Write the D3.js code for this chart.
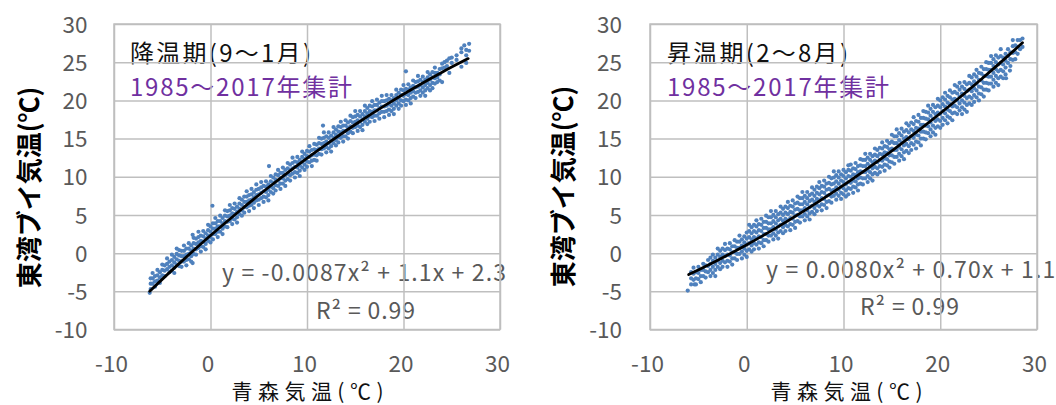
<!DOCTYPE html>
<html><head><meta charset="utf-8">
<script src="https://cdn.jsdelivr.net/npm/d3@7"></script>
<style>
html,body{margin:0;padding:0;background:#fff;}
svg{display:block;}
text{font-family:"Noto Sans CJK JP","Noto Sans",sans-serif;}
</style></head><body>
<svg id="chart" width="1056" height="405"></svg>
<script>
// ---------- tick labels ----------
const xTicks = [-10, 0, 10, 20, 30];
const yTicks = [-10, -5, 0, 5, 10, 15, 20, 25, 30];
const xTitle = "青森気温(℃)";
const yTitle = "東湾ブイ気温(℃)";
const periodNote = "1985～2017年集計";

// ---------- cooling period (Sep–Jan): rows = [Aomori x, buoy y values...] ----------
const coolTitle = "降温期(9～1月)";
const coolEq = "y = -0.0087x² + 1.1x + 2.3";
const coolR2 = "R² = 0.99";
const coolRows = [
[-6.3,-5.2],[-6.2,-4.7,-4.0,-3.3],[-6.0,-4.0,-3.3,-2.6],[-5.75,-4.4,-3.7,-3.0],[-5.5,-3.6,-2.9,-2.2],
[-5.25,-3.9,-3.2,-2.5],[-5.0,-2.9,-2.2,-1.5],[-4.75,-3.0,-2.3,-1.6],[-4.5,-2.1,-1.4,-0.7],[-4.25,-2.5,-1.8,-1.1],
[-4.0,-2.3,-1.6,-0.9,-0.2],[-3.75,-2.6,-1.9,-1.2,-0.5],[-3.5,-1.5,-0.8,-0.1,0.6],[-3.25,-1.7,-1.0,-0.3,0.4],
[-3.0,-1.8,-1.1,-0.4,0.3],[-2.75,-1.1,-0.4,0.3,1.0],[-2.5,-1.6,-0.9,-0.2,0.6],[-2.25,-0.8,-0.1,0.6,1.3],
[-2.0,-1.1,-0.4,0.3,1.0],[-1.85,2.4,-1.3],[-1.75,-0.1,0.6,1.3,2.0],[-1.5,-0.2,0.5,1.2,1.9],
[-1.25,0.7,1.4,2.1,2.8],[-1.0,0.2,0.9,1.6,2.3],[-0.75,0.8,1.5,2.2,2.9],[-0.5,0.5,1.2,1.9,2.6],
[-0.25,1.6,2.3,3.0,3.7],[0.0,1.4,2.1,2.8,3.5],[0.2,6.2],[0.25,1.8,2.5,3.2,3.9],[0.5,2.5,3.2,3.9,4.6],
[0.75,2.1,2.8,3.5,4.2],[1.0,2.8,3.5,4.2,4.9],[1.25,2.5,3.2,3.9,4.6],[1.5,3.5,4.2,4.9,5.6],
[1.75,3.4,4.1,4.8,5.5],[2.0,4.2,4.9,5.6,6.3],[2.25,3.8,4.5,5.2,5.9],[2.5,4.4,5.1,5.8,6.5],
[2.75,4.0,4.7,5.4,6.1],[3.0,5.1,5.8,6.5,7.2],[3.25,4.9,5.6,6.3,7.0],[3.5,5.3,6.0,6.7,7.4],
[3.75,6.0,6.7,7.4,8.1],[4.0,5.5,6.2,6.9,7.6],[4.25,6.3,7.0,7.7,8.4],[4.5,5.9,6.6,7.3,8.0],
[4.75,6.9,7.6,8.3,9.0],[5.0,6.3,7.0,7.7,8.4],[5.25,7.2,7.9,8.6,9.3],[5.5,6.7,7.4,8.1,8.8],
[5.75,7.3,8.0,8.7,9.4],[6.0,6.9,7.6,8.3,9.0],[6.06,11.4],[6.25,8.0,8.7,9.4,10.1],[6.5,7.8,8.5,9.2,9.9],
[6.75,8.2,8.9,9.6,10.3],[7.0,8.8,9.5,10.2,10.9],[7.25,8.4,9.1,9.8,10.5],[7.5,9.1,9.8,10.5,11.2],
[7.75,8.8,9.5,10.2,10.9],[8.0,9.7,10.4,11.1,11.8],[8.25,9.5,10.2,10.9,11.6],[8.5,10.4,11.1,11.8,12.5],
[8.75,9.9,10.6,11.3,12.0],[9.0,10.5,11.2,11.9,12.6],[9.25,10.1,10.8,11.5,12.2],[9.5,11.2,11.9,12.6,13.3],
[9.75,10.9,11.6,12.3,13.0],[10.0,11.3,12.0,12.7,13.4],[10.25,11.9,12.6,13.3,14.0],[10.5,11.4,12.1,12.8,13.5],
[10.75,12.2,12.9,13.6,14.3],[11.0,12.1,12.8,13.5,14.2],[11.25,13.0,13.7,14.4,15.1],[11.5,12.9,13.6,14.3,15.0],
[11.66,16.7],[11.75,13.7,14.4,15.1,15.8],[12.0,13.2,13.9,14.6,15.3],[12.25,13.7,14.4,15.1,15.8],
[12.5,13.3,14.0,14.7,15.4],[12.75,14.4,15.1,15.8,16.5],[13.0,14.1,14.8,15.5,16.2],[13.25,14.5,15.2,15.9,16.6],
[13.5,15.1,15.8,16.5,17.2],[13.75,14.6,15.3,16.0,16.7],[14.0,15.3,16.0,16.7,17.4],[14.25,15.0,15.7,16.4,17.1],
[14.5,15.9,16.6,17.3,18.0],[14.75,15.7,16.4,17.1,17.8],[15.0,16.5,17.2,17.9,18.6],[15.25,16.0,16.7,17.4,18.1],
[15.5,16.5,17.2,17.9,18.6],[15.75,16.1,16.8,17.5,18.2],[16.0,17.2,17.9,18.6,19.3],[16.25,16.9,17.6,18.3,19.0],
[16.5,17.2,17.9,18.6,19.3],[16.75,17.8,18.5,19.2,19.9],[17.0,17.3,18.0,18.7,19.4],[17.25,18.0,18.7,19.4,20.1],
[17.5,17.6,18.3,19.0,19.7],[17.75,18.5,19.2,19.9,20.6],[18.0,17.8,18.5,19.2,19.9],[18.25,18.6,19.3,20.0,20.7],
[18.5,18.1,18.8,19.5,20.2],[18.75,18.6,19.3,20.0,20.7],[19.0,18.2,18.9,19.6,20.3],[19.25,19.3,20.0,20.7,21.4],
[19.5,18.9,19.6,20.3,21.0],[19.75,19.3,20.0,20.7,21.4],[20.0,19.9,20.6,21.3,22.0],[20.25,19.4,20.1,20.8,21.5,23.8],
[20.5,20.0,20.7,21.4,22.1],[20.75,19.6,20.3,21.0,21.7],[21.0,20.5,21.2,21.9,22.6],[21.25,20.3,21.0,21.7,22.4],
[21.5,21.1,21.8,22.5,23.2],[21.75,20.6,21.3,22.0,22.7],[22.0,21.0,21.7,22.4,23.1],[22.25,20.6,21.3,22.0,22.7],
[22.5,21.6,22.3,23.0,23.7],[22.75,21.3,22.0,22.7,23.4],[23.0,21.6,22.3,23.0,23.7],[23.25,22.2,22.9,23.6,24.3],
[23.5,22.4,23.0,23.6],[23.75,22.6,23.4,24.1],[24.0,22.4,24.2,24.8],[24.25,24.3,25.0],[24.5,24.5,25.2],
[24.75,23.6,25.5],[25.0,24.9,25.6],[25.5,25.3,25.9],[26.0,24.4,26.3,26.8],[26.3,27.2],[26.5,24.9,25.9,26.6],[26.8,26.5,27.4]
];
const coolFitX = [-6.3, -3, 0, 3, 6, 9, 12, 15, 18, 21, 24, 26.7];
const coolFitY = [-4.98, -1.08, 2.3, 5.52, 8.59, 11.5, 14.25, 16.84, 19.28, 21.56, 23.69, 25.47];

// ---------- warming period (Feb–Aug) ----------
const warmTitle = "昇温期(2～8月)";
const warmEq = "y = 0.0080x² + 0.70x + 1.1";
const warmR2 = "R² = 0.99";
const warmRows = [
[-6.1,-4.9],[-5.4,-4.1],[-5.75,-4.1,-3.3,-2.5],[-5.5,-3.5,-2.7,-1.9],[-5.25,-4.1,-3.3,-2.5],[-5.0,-3.4,-2.6,-1.8],
[-4.75,-3.8,-3.0,-2.2],[-4.5,-3.0,-2.2,-1.4],[-4.25,-3.2,-2.4,-1.6],[-4.0,-2.5,-1.7,-0.9],
[-3.75,-3.0,-2.2,-1.4,-0.6],[-3.5,-2.6,-1.8,-1.0,-0.2],[-3.25,-3.0,-2.2,-1.4,-0.6],[-3.0,-1.8,-1.0,-0.2,0.6],
[-2.75,-2.1,-1.3,-0.5,0.3],[-2.5,-1.8,-1.0,-0.2,0.6],[-2.25,-1.2,-0.4,0.4,1.2],[-2.0,-1.8,-1.0,-0.2,0.6],
[-1.75,-1.1,-0.3,0.5,1.3],[-1.5,-1.5,-0.7,0.1,0.9],[-1.25,-0.7,0.1,0.9,1.7],[-1.0,-0.9,-0.1,0.7,1.5],
[-0.75,-0.1,0.7,1.5,2.3],[-0.5,-0.7,0.2,1.0,1.8],[-0.25,-0.2,0.6,1.4,2.2],[0.0,-0.5,0.3,1.1,1.9,2.7],
[0.25,0.5,1.3,2.1,2.9,3.7],[0.5,0.2,1.0,1.8,2.6,3.4],[0.75,0.5,1.3,2.1,2.9,3.7],[1.0,1.1,1.9,2.7,3.5,4.3],
[1.25,0.6,1.4,2.2,3.0,3.8],[1.5,1.3,2.1,2.9,3.7,4.5],[1.75,0.9,1.7,2.5,3.3,4.1],[2.0,1.7,2.5,3.3,4.1,4.9],
[2.25,1.5,2.3,3.1,3.9,4.7],[2.5,2.3,3.1,3.9,4.7,5.5],[2.75,1.8,2.6,3.4,4.2,5.0],[3.0,2.3,3.1,3.9,4.7,5.5],
[3.25,1.9,2.7,3.5,4.3,5.1],[3.5,2.9,3.7,4.5,5.3,6.1],[3.75,2.6,3.4,4.2,5.0,5.8],[4.0,2.9,3.7,4.5,5.3,6.1],
[4.25,3.5,4.3,5.1,5.9,6.7],[4.5,3.0,3.8,4.6,5.4,6.2],[4.75,3.7,4.5,5.3,6.1,6.9],[5.0,3.3,4.1,4.9,5.7,6.5],
[5.25,4.2,5.0,5.8,6.6,7.4],[5.5,4.0,4.8,5.6,6.4,7.2],[5.75,4.8,5.6,6.4,7.2,8.0],[6.0,4.3,5.1,5.9,6.7,7.5],
[6.25,4.8,5.6,6.4,7.2,8.0],[6.5,4.4,5.2,6.0,6.8,7.6],[6.75,5.4,6.2,7.0,7.8,8.6],[7.0,5.1,5.9,6.7,7.5,8.3],
[7.25,5.5,6.3,7.1,7.9,8.7],[7.5,6.1,6.9,7.7,8.5,9.3],[7.75,5.6,6.4,7.2,8.0,8.8],[8.0,6.3,7.1,7.9,8.7,9.5],
[8.25,5.9,6.7,7.5,8.3,9.1],[8.5,6.8,7.6,8.4,9.2,10.0],[8.75,6.6,7.4,8.2,9.0,9.8],[9.0,7.5,8.3,9.1,9.9,10.7],
[9.25,7.0,7.8,8.6,9.4,10.2],[9.5,7.5,8.3,9.1,9.9,10.7],[9.75,7.1,7.9,8.7,9.5,10.3],[10.0,7.7,8.5,9.3,10.1,10.9],
[10.25,7.4,8.2,9.0,9.8,10.6],[10.5,7.7,8.5,9.3,10.1,10.9,11.5],[10.75,8.4,9.2,10.0,10.8,11.6],[11.0,7.9,8.7,9.5,10.3,11.1],
[11.25,8.6,9.4,10.2,11.0,11.8],[11.5,8.2,9.0,9.8,10.6,11.4],[11.75,9.1,9.9,10.7,11.5,12.3],[12.0,9.0,9.8,10.6,11.4,12.2],
[12.25,9.8,10.6,11.4,12.2,13.0],[12.5,9.3,10.1,10.9,11.7,12.5],[12.75,9.8,10.6,11.4,12.2,13.0],[13.0,9.5,10.3,11.1,11.9,12.7],
[13.25,10.5,11.3,12.1,12.9,13.7],[13.5,10.3,11.1,11.9,12.7,13.5],[13.75,10.6,11.4,12.2,13.0,13.8],[14.0,11.3,12.1,12.9,13.7,14.5],
[14.25,10.8,11.6,12.4,13.2,14.0],[14.5,11.5,12.3,13.1,13.9,14.7],[14.75,11.2,12.0,12.8,13.6,14.4],[15.0,11.9,12.8,13.7,14.6,15.5],
[15.25,11.7,12.6,13.5,14.4,15.3],[15.5,12.6,13.5,14.4,15.3,16.2],[15.75,12.1,13.0,13.9,14.8,15.7],[16.0,12.7,13.6,14.5,15.4,16.3],
[16.25,12.3,13.2,14.1,15.0,15.9],[16.5,13.4,14.3,15.2,16.1,17.0],[16.75,13.1,14.0,14.9,15.8,16.7],[17.0,13.5,14.4,15.3,16.2,17.1],
[17.25,14.2,15.1,16.0,16.9,17.8],[17.5,13.7,14.6,15.5,16.4,17.3],[17.75,14.5,15.4,16.3,17.2,18.1],[18.0,14.1,15.0,15.9,16.8,17.7],
[18.25,15.0,15.9,16.8,17.7,18.6],[18.5,14.9,15.8,16.7,17.6,18.5],[18.75,15.7,16.6,17.5,18.4,19.3],[19.0,15.3,16.2,17.1,18.0,18.9],
[19.25,15.8,16.7,17.6,18.5,19.4],[19.5,15.5,16.4,17.3,18.2,19.1],[19.75,16.6,17.5,18.4,19.3,20.2],[20.0,16.4,17.3,18.2,19.1,20.0],
[20.25,16.8,17.7,18.6,19.5,20.4],[20.5,17.4,18.3,19.2,20.1,21.0],[20.75,17.0,17.9,18.8,19.7,20.6],[21.0,17.7,18.6,19.5,20.4,21.3],
[21.25,17.4,18.3,19.2,20.1,21.0],[21.5,18.4,19.3,20.2,21.1,22.0],[21.75,18.2,19.1,20.0,20.9,21.8],[22.0,18.7,19.6,20.5,21.4,22.3],
[22.25,18.2,19.1,20.0,20.9,21.8],[22.5,18.8,19.7,20.6,21.5,22.4],[22.75,18.5,19.4,20.3,21.2,22.1],[23.0,19.6,20.5,21.4,22.3,23.2],
[23.25,19.4,20.3,21.2,22.1,23.0],[23.5,19.8,20.7,21.6,22.5,23.4],[23.75,20.4,21.3,22.2,23.1,24.0],[24.0,20.0,20.9,21.8,22.7,23.6],
[24.25,20.8,21.7,22.6,23.5,24.4],[24.5,20.5,21.4,22.3,23.2,24.1],[24.75,21.4,22.3,23.2,24.1,25.0],[25.0,21.3,22.2,23.1,24.0,24.9],
[25.25,22.2,23.1,24.0,24.9,25.8],[25.5,21.8,22.7,23.6,24.5,25.4],[25.75,22.3,23.2,24.1,25.0,25.9],[26.0,22.0,22.9,23.8,24.7,25.6],
[26.25,23.1,24.0,24.9,25.8,26.7],[26.5,22.9,23.8,24.7,25.6],[26.75,23.4,24.3,25.2,26.1],[26.8,22.9],[27.0,24.9,25.8,26.7],
[27.2,23.9],[27.25,24.5,25.4,26.3],[27.5,25.3,26.2,27.1,27.9],[27.75,25.4,26.3,27.2],[28.0,26.1,27.0,27.9],
[28.25,26.7,27.9],[28.5,27.0,28.1]
];
const warmFitX = [-6, -3, 0, 3, 6, 9, 12, 15, 18, 21, 24, 27, 28.5];
const warmFitY = [-2.81, -0.93, 1.1, 3.27, 5.59, 8.05, 10.65, 13.4, 16.29, 19.33, 22.51, 25.83, 27.55];

// ---------- layout ----------
const svg = d3.select("#chart");
svg.append("rect").attr("width",1056).attr("height",405).attr("fill","#fff");
const TOP = 24, BOTTOM = 329.5;
const GRID = "#BFBFBF", LABEL = "#595959";
const TICKFONT = '"Liberation Sans","Noto Sans",sans-serif';

const panels = [
  {rows: coolRows, fitX: coolFitX, fitY: coolFitY, title: coolTitle, eq: coolEq, r2: coolR2,
   left:114, right:500, yLabX:87.5, yTitleX:27, yTitleY:187.5, xTitleX:307.5,
   noteX:130, eqX:222, eqY:281, r2X:316, r2Y:319},
  {rows: warmRows, fitX: warmFitX, fitY: warmFitY, title: warmTitle, eq: warmEq, r2: warmR2,
   left:650, right:1037, yLabX:622, yTitleX:561, yTitleY:186.5, xTitleX:846.5,
   noteX:667, eqX:766, eqY:278, r2X:860, r2Y:315}
];

const eqNodes = [];
panels.forEach(p => {
  const x = d3.scaleLinear().domain([-10, 30]).range([p.left, p.right]);
  const y = d3.scaleLinear().domain([-10, 30]).range([BOTTOM, TOP]);
  const g = svg.append("g");

  // annotations (under the grid)
  g.append("text").attr("x", p.noteX).attr("y", 62).attr("font-size", 24).attr("fill", "#111")
    .attr("textLength", 181).attr("lengthAdjust", "spacing").text(p.title);
  g.append("text").attr("x", p.noteX).attr("y", 96).attr("font-size", 24).attr("fill", "#7030A0")
    .attr("textLength", 222).attr("lengthAdjust", "spacing").text(periodNote);
  const eqT = g.append("text").attr("x", p.eqX).attr("y", p.eqY).attr("font-size", 23).attr("fill", LABEL).text(p.eq);
  eqNodes.push(eqT);
  g.append("text").attr("x", p.r2X).attr("y", p.r2Y).attr("font-size", 23).attr("fill", LABEL)
    .attr("textLength", 99).attr("lengthAdjust", "spacing").text(p.r2);

  // grid + axes
  const gx = g.append("g").attr("transform", `translate(0,${BOTTOM})`)
    .call(d3.axisBottom(x).tickValues(xTicks).tickFormat(d => String(d)).tickSize(-(BOTTOM - TOP)).tickSizeOuter(0));
  gx.select(".domain").remove();
  gx.selectAll("line").attr("stroke", GRID).attr("stroke-width", 1.5);
  gx.selectAll("text").attr("y", 42.5).attr("dy", 0).attr("dx", -3)
    .attr("font-size", 22.5).attr("fill", LABEL);

  const gy = g.append("g").attr("transform", `translate(${p.left},0)`)
    .call(d3.axisLeft(y).tickValues(yTicks).tickFormat(d => String(d)).tickSize(-(p.right - p.left)).tickSizeOuter(0));
  gy.select(".domain").remove();
  gy.selectAll("line").attr("stroke", GRID).attr("stroke-width", 1.5);
  gy.selectAll("text").attr("x", p.yLabX - p.left).attr("dy", "0.36em")
    .attr("font-size", 22.5).attr("fill", LABEL);
  g.selectAll("g.tick text").attr("font-family", TICKFONT);

  g.append("rect").attr("x", p.left).attr("y", TOP).attr("width", p.right - p.left).attr("height", BOTTOM - TOP)
    .attr("fill", "none").attr("stroke", GRID).attr("stroke-width", 1.5);

  // points
  const pts = p.rows.flatMap(([xv, ...ys]) => ys.map(yv => [xv, yv]));
  g.append("g").selectAll("circle").data(pts).join("circle")
    .attr("cx", d => x(d[0])).attr("cy", d => y(d[1])).attr("r", 2.1).attr("fill", "#4F81BD");

  // fitted curve
  const line = d3.line().x(d => x(d[0])).y(d => y(d[1])).curve(d3.curveMonotoneX);
  g.append("path").datum(p.fitX.map((v, i) => [v, p.fitY[i]])).attr("d", line)
    .attr("fill", "none").attr("stroke", "#000").attr("stroke-width", 2.8).attr("stroke-linecap", "round");

  // axis titles
  g.append("text").attr("x", p.xTitleX).attr("y", 399).attr("text-anchor", "middle")
    .attr("font-size", 21).attr("textLength", 152).attr("lengthAdjust", "spacing")
    .attr("fill", "#111").text(xTitle);
  g.append("text").attr("transform", `translate(${p.yTitleX},${p.yTitleY}) rotate(-90)`)
    .attr("text-anchor", "middle").attr("dominant-baseline", "central")
    .attr("font-size", 26).attr("font-weight", "bold").attr("fill", "#000").text(yTitle);
});

// scale equation text so the left one spans ~284px, same spacing for the right
const nat0 = eqNodes[0].node().getComputedTextLength();
const ratio = 284 / nat0;
eqNodes.forEach(t => {
  const n = t.node().getComputedTextLength();
  t.attr("textLength", n * ratio).attr("lengthAdjust", "spacing");
});
</script>
</body></html>
